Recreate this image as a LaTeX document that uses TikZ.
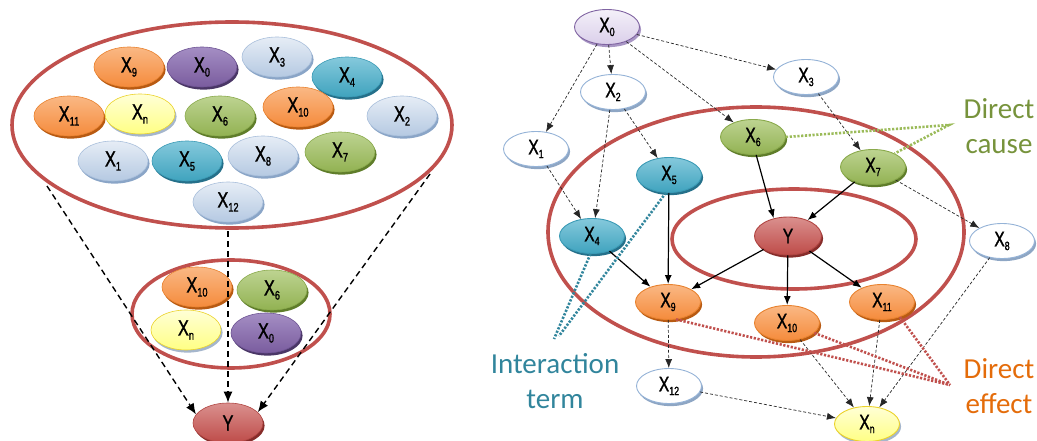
\documentclass[tikz,border=0pt]{standalone}
\usepackage{fontspec}
\setmainfont{Liberation Sans}
\newfontfamily\nf[FakeStretch=0.74,FakeBold=1.3]{Liberation Sans}
\newfontfamily\labfont{Carlito}
\usetikzlibrary{shapes.geometric,arrows.meta,shadows,backgrounds}

\definecolor{ringred}{HTML}{C0504D}
\definecolor{orTop}{HTML}{FAB884}
\definecolor{orBase}{HTML}{F58B3C}
\definecolor{orDraw}{HTML}{E8822F}
\definecolor{orSh}{HTML}{B85A12}
\definecolor{puTop}{HTML}{A48EC4}
\definecolor{puBase}{HTML}{7A5C9E}
\definecolor{puDraw}{HTML}{6E5494}
\definecolor{puSh}{HTML}{4A3666}
\definecolor{lbTop}{HTML}{E6EDF6}
\definecolor{lbBase}{HTML}{B5C9E2}
\definecolor{lbDraw}{HTML}{A9BFDB}
\definecolor{lbSh}{HTML}{8AA5C7}
\definecolor{teTop}{HTML}{85C9DC}
\definecolor{teBase}{HTML}{3FA3BE}
\definecolor{teDraw}{HTML}{3A9AB5}
\definecolor{teSh}{HTML}{25708A}
\definecolor{grTop}{HTML}{BDD391}
\definecolor{grBase}{HTML}{92B252}
\definecolor{grDraw}{HTML}{8AAA4C}
\definecolor{grSh}{HTML}{5F7D2A}
\definecolor{yeTop}{HTML}{FFFFD6}
\definecolor{yeBase}{HTML}{FFFF84}
\definecolor{yeDraw}{HTML}{EBD22A}
\definecolor{yeSh}{HTML}{A5B6CC}
\definecolor{reTop}{HTML}{DA908E}
\definecolor{reBase}{HTML}{BE4B48}
\definecolor{reDraw}{HTML}{B04542}
\definecolor{reSh}{HTML}{862C2A}
\definecolor{whDraw}{HTML}{95B3D7}
\definecolor{whSh}{HTML}{8EA6C4}
\definecolor{laTop}{HTML}{F4F0F9}
\definecolor{laBase}{HTML}{DACFEA}
\definecolor{laDraw}{HTML}{8064A2}
\definecolor{laSh}{HTML}{A896C4}
\definecolor{causeC}{HTML}{77933C}
\definecolor{causeL}{HTML}{9BBB59}
\definecolor{interC}{HTML}{31859C}
\definecolor{effectC}{HTML}{E46C0A}

\newcommand\Xs[1]{X\raisebox{-4.2pt}{\fontsize{12.5}{12.5}\selectfont #1}}
\newcommand\Xr[1]{X\raisebox{-3.8pt}{\fontsize{12}{12}\selectfont #1}}

\tikzset{
  bubL/.style={ellipse, minimum width=70pt, minimum height=40pt, inner sep=0pt,
    font=\nf\fontsize{22}{22}\selectfont, line width=0.6pt},
  bubR/.style={ellipse, minimum width=65pt, minimum height=35pt, inner sep=0pt,
    font=\nf\fontsize{21}{21}\selectfont, line width=0.9pt},
  sh/.style={drop shadow={shadow xshift=1.6pt, shadow yshift=-2.6pt, fill=#1, opacity=1}},
  cOr/.style={top color=orTop, bottom color=orBase, draw=orDraw, sh=orSh},
  cPu/.style={top color=puTop, bottom color=puBase, draw=puDraw, sh=puSh},
  cLb/.style={top color=lbTop, bottom color=lbBase, draw=lbDraw, sh=lbSh},
  cTe/.style={top color=teTop, bottom color=teBase, draw=teDraw, sh=teSh},
  cGr/.style={top color=grTop, bottom color=grBase, draw=grDraw, sh=grSh},
  cYe/.style={top color=yeTop, bottom color=yeBase, draw=yeDraw, sh=yeSh},
  cRe/.style={top color=reTop, bottom color=reBase, draw=reDraw, sh=reSh},
  cWh/.style={fill=white, draw=whDraw, sh=whSh},
  cLa/.style={top color=laTop, bottom color=laBase, draw=laDraw, sh=laSh},
  ring/.style={draw=ringred, line width=3.6pt},
  ldash/.style={line width=1.4pt, dash pattern=on 6pt off 4pt, -{Latex[length=11pt,width=9pt]}},
  rdash/.style={line width=0.7pt, draw=black!85, dash pattern=on 3pt off 2pt, -{Latex[length=9pt,width=7pt]}},
  rsolid/.style={line width=1.2pt, -{Latex[length=9pt,width=7pt]}},
  dotline/.style={line width=2.6pt, dash pattern=on 2.2pt off 1.6pt},
  lab/.style={font=\labfont\fontsize{29}{35}\selectfont, align=center},
}

\begin{document}
\begin{tikzpicture}[x=1pt,y=-1pt]
\useasboundingbox (0,0) rectangle (1037,441);

% ---------- left: big ring nodes ----------
\node[bubL,cOr] (L9)  at (129,67)  {\Xs{9}};
\node[bubL,cPu] (L0)  at (202,67)  {\Xs{0}};
\node[bubL,cLb] (L3)  at (277,57)  {\Xs{3}};
\node[bubL,cTe] (L4)  at (347,77)  {\Xs{4}};
\node[bubL,cOr] (L11) at (69,116)  {\Xs{11}};
\node[bubL,cYe] (Ln)  at (140,114) {\Xs{n}};
\node[bubL,cGr] (L6)  at (220,116) {\Xs{6}};
\node[bubL,cOr] (L10) at (298,107) {\Xs{10}};
\node[bubL,cLb] (L2)  at (402,116) {\Xs{2}};
\node[bubL,cLb] (L1)  at (113,161) {\Xs{1}};
\node[bubL,cTe] (L5)  at (187,161) {\Xs{5}};
\node[bubL,cLb] (L8)  at (263,156) {\Xs{8}};
\node[bubL,cGr] (L7)  at (340,152) {\Xs{7}};
\node[bubL,cLb] (L12) at (228,202) {\Xs{12}};

% ---------- left: small ring nodes ----------
\node[bubL,cOr] (S10) at (197,287) {\Xs{10}};
\node[bubL,cGr] (S6)  at (272,290) {\Xs{6}};
\node[bubL,cYe] (Sn)  at (186,330) {\Xs{n}};
\node[bubL,cPu] (S0)  at (266,333) {\Xs{0}};
\node[bubL,cRe] (LY)  at (228,423) {Y};

% ---------- right nodes ----------
\node[bubR,cLa] (R0)  at (607,27)  {\Xr{0}};
\node[bubR,cWh] (R2)  at (613,92)  {\Xr{2}};
\node[bubR,cWh] (R3)  at (806,77)  {\Xr{3}};
\node[bubR,cWh] (R1)  at (536,149) {\Xr{1}};
\node[bubR,cGr] (R6)  at (753,137) {\Xr{6}};
\node[bubR,cTe] (R5)  at (669,175) {\Xr{5}};
\node[bubR,cGr] (R7)  at (873,167) {\Xr{7}};
\node[bubR,cTe] (R4)  at (592,236) {\Xr{4}};
\node[bubR,cRe,minimum height=38pt,minimum width=67pt] (RY) at (788,236) {Y};
\node[bubR,cWh] (R8)  at (1002,241) {\Xr{8}};
\node[bubR,cOr] (R9)  at (668,302) {\Xr{9}};
\node[bubR,cOr] (R10) at (787,323) {\Xr{10}};
\node[bubR,cOr] (R11) at (882,302) {\Xr{11}};
\node[bubR,cWh] (R12) at (669,386) {\Xr{12}};
\node[bubR,cYe] (Rn)  at (867,424) {\Xr{n}};

% ---------- rings ----------
\begin{pgfonlayer}{background}
\draw[ring] (232,125) ellipse [x radius=220, y radius=103];
\draw[ring] (231,314) ellipse [x radius=99, y radius=54];
\draw[ring] (756,232) ellipse [x radius=208, y radius=125];
\draw[ring] (794,239) ellipse [x radius=122, y radius=50];
\end{pgfonlayer}

% ---------- left connectors ----------
\coordinate (lA) at (47,186);
\coordinate (lB) at (430,174);
\coordinate (lC) at (228,231);
\draw[ldash] (lA) -- (LY.165);
\draw[ldash] (lB) -- (LY.20);
\draw[ldash] (lC) -- (LY);

% ---------- right dashed connectors ----------
\draw[rdash] (R0) -- (R1);
\draw[rdash] (R0) -- (R2);
\draw[rdash] (R0) -- (R6);
\draw[rdash] (R0) -- (R3);
\draw[rdash] (R1) -- (R4);
\draw[rdash] (R2.-100) -- (R4.80);
\draw[rdash] (R2) -- (R5);
\draw[rdash] (R3) -- (R7);
\draw[rdash] (R7) -- (R8);
\draw[rdash] (R9) -- (R12);
\draw[rdash] (R12) -- (Rn);
\draw[rdash] (R10) -- (Rn);
\draw[rdash] (R11) -- (Rn);
\draw[rdash] (R8) -- (Rn);

% ---------- right solid connectors ----------
\draw[rsolid] (R6.-80) -- (RY.129);
\draw[rsolid] (R7) -- (RY);
\draw[rsolid] (R5) -- (R9);
\draw[rsolid] (R4) -- (R9);
\draw[rsolid] (RY) -- (R9);
\draw[rsolid] (RY) -- (R10);
\draw[rsolid] (RY) -- (R11);

% ---------- annotation lines ----------
\coordinate (dc) at (949,125);
\coordinate (it1) at (554,339);
\coordinate (it2) at (559,336);
\coordinate (de) at (950,385);
\draw[dotline, causeL] (R6.east) -- (dc) -- (R7.32);
\draw[dotline, interC] (R4.-95) -- (it1);
\draw[dotline, interC] (R5.-100) -- (it2);
\draw[dotline, ringred] (R9.-65) -- (de);
\draw[dotline, ringred] (R10.-20) -- (de);
\draw[dotline, ringred] (R11.-40) -- (de);

% ---------- labels ----------
\node[lab, text=causeC] (tcause) at (999,126) {Direct\\cause};
\node[lab, text=interC] (tinter) at (555,381) {Interaction\\term};
\node[lab, text=effectC] (teffect) at (999,386) {Direct\\effect};
\end{tikzpicture}
\end{document}
